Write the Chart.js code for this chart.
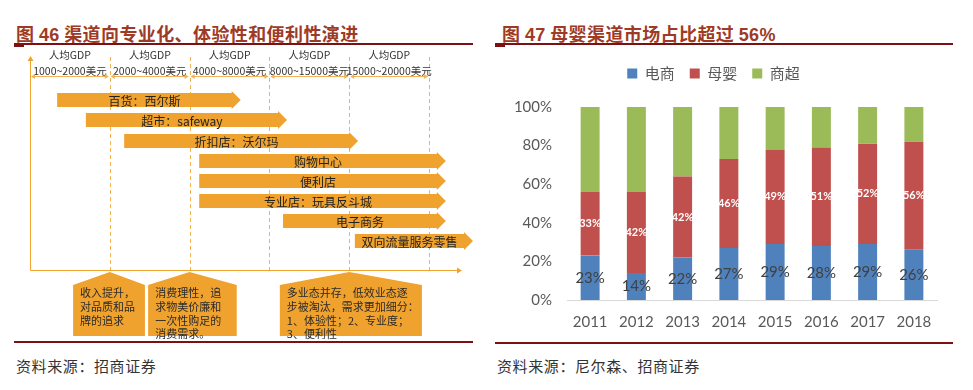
<!DOCTYPE html>
<html>
<head>
<meta charset="utf-8">
<script src="https://cdn.jsdelivr.net/npm/chart.js@4.4.0/dist/chart.umd.min.js"></script>
<style>
  body { margin: 0; width: 973px; height: 390px; background: #fff; position: relative; overflow: hidden; font-family: "Noto Sans CJK SC", sans-serif; }
  .title { position: absolute; top: 21px; line-height: 24px; font-size: 18px; font-weight: bold; color: #9E3A26; white-space: nowrap; letter-spacing: 0.4px; }
  .title b { font-family: "Liberation Sans", Arial, sans-serif; }
  .rule { position: absolute; background: #7B1113; }
  .src { position: absolute; top: 356px; line-height: 20px; font-size: 15px; color: #333; white-space: nowrap; letter-spacing: 0.6px; }
  canvas { position: absolute; }
</style>
</head>
<body>
<div class="title" style="left:16px">图 <b>46</b> 渠道向专业化、体验性和便利性演进</div>
<div class="rule" style="left:14px;top:43px;width:459px;height:2px"></div>
<div class="rule" style="left:14px;top:43px;width:10px;height:4px"></div>
<div class="rule" style="left:14px;top:341px;width:459px;height:2px"></div>
<div class="src" style="left:16px">资料来源：招商证券</div>

<div class="title" style="left:502px">图 <b>47</b> 母婴渠道市场占比超过 <b>56%</b></div>
<div class="rule" style="left:495px;top:43px;width:458px;height:2px"></div>
<div class="rule" style="left:495px;top:43px;width:10px;height:4px"></div>
<div class="rule" style="left:495px;top:342px;width:458px;height:2px"></div>
<div class="src" style="left:497px">资料来源：尼尔森、招商证券</div>

<canvas id="flow" width="487" height="296" style="left:0;top:46px"></canvas>
<canvas id="share" width="483" height="290" style="left:490px;top:50px"></canvas>

<script>
// left: channel evolution along GDP per capita stages
const periodTop = ["人均GDP", "人均GDP", "人均GDP", "人均GDP", "人均GDP"];
const periodRange = ["1000~2000美元", "2000~4000美元", "4000~8000美元", "8000~15000美元", "15000~20000美元"];
const channels = ["百货：西尔斯", "超市：safeway", "折扣店：沃尔玛", "购物中心", "便利店", "专业店：玩具反斗城", "电子商务", "双向流量服务零售"];
const channelStart = [0.34, 0.70, 1.18, 2.12, 2.12, 2.12, 3.17, 4.07];
const channelEnd = [2.64, 3.22, 4.11, 5.21, 5.21, 5.21, 5.21, 5.55];
const notes = [
  ["收入提升，", "对品质和品", "牌的追求"],
  ["消费理性，追", "求物美价廉和", "一次性购足的", "消费需求。"],
  ["多业态并存，低效业态逐", "步被淘汰，需求更加细分：", "1、体验性；2、专业度；", "3、便利性"],
];
const noteAt = [1, 2, 4];

// right: channel share
const years = ["2011", "2012", "2013", "2014", "2015", "2016", "2017", "2018"];
const seriesNames = ["电商", "母婴", "商超"];
const ecommerce = [23, 14, 22, 27, 29, 28, 29, 26];
const maternity = [33, 42, 42, 46, 49, 51, 52, 56];
const supermarket = [44, 44, 36, 27, 22, 21, 19, 18];

const ORANGE = "#F0A22E";
const CJK = '"Noto Sans CJK SC", sans-serif';
const noteSpan = [[0.54, 1.44], [1.48, 2.59], [3.13, 4.91]];

function arrowHead(ctx, x, y, dx, dy, size) {
  ctx.beginPath();
  ctx.moveTo(x, y);
  ctx.lineTo(x - dx * size - dy * size * 0.6, y - dy * size - dx * size * 0.6);
  ctx.lineTo(x - dx * size + dy * size * 0.6, y - dy * size + dx * size * 0.6);
  ctx.closePath();
  ctx.fill();
}

const guidePlugin = {
  id: "guides",
  beforeDatasetsDraw(chart) {
    const { ctx, chartArea: a, scales } = chart;
    const x = scales.x;
    ctx.save();
    ctx.strokeStyle = "#F2B255";
    ctx.lineWidth = 1;
    ctx.setLineDash([4, 3]);
    for (let b = 1; b <= periodRange.length; b++) {
      const px = Math.round(x.getPixelForValue(b)) + 0.5;
      ctx.beginPath();
      ctx.moveTo(px, a.top - 5);
      ctx.lineTo(px, a.bottom);
      ctx.stroke();
    }
    ctx.setLineDash([]);

    // axes
    ctx.strokeStyle = ORANGE;
    ctx.fillStyle = ORANGE;
    const x0 = Math.round(x.getPixelForValue(0)) + 0.5;
    const yb = Math.round(a.bottom) + 0.5;
    ctx.beginPath();
    ctx.moveTo(x0, yb);
    ctx.lineTo(x0, a.top - 4);
    ctx.moveTo(x0, yb);
    ctx.lineTo(a.right - 13, yb);
    ctx.stroke();
    arrowHead(ctx, x0, a.top - 6, 0, -1, 5);
    arrowHead(ctx, a.right - 11, yb, 1, 0, 5);

    // stage labels and span arrows
    ctx.font = "10.5px " + CJK;
    ctx.textAlign = "center";
    ctx.textBaseline = "middle";
    const yd = Math.round(a.top + 14) + 0.5;
    for (let i = 0; i < periodRange.length; i++) {
      const l = x.getPixelForValue(i), r = x.getPixelForValue(i + 1);
      const cx = (l + r) / 2;
      ctx.fillStyle = "#333";
      ctx.fillText(periodTop[i], cx, a.top - 7);
      ctx.fillText(periodRange[i], cx, a.top + 9);
      ctx.strokeStyle = "#F2B255";
      ctx.fillStyle = "#F2B255";
      ctx.beginPath();
      ctx.moveTo(l + 2, yd);
      ctx.lineTo(r - 2, yd);
      ctx.stroke();
      arrowHead(ctx, l + 1, yd, -1, 0, 4);
      arrowHead(ctx, r - 1, yd, 1, 0, 4);
    }

    // note boxes under the axis
    ctx.font = "11px " + CJK;
    ctx.textAlign = "left";
    notes.forEach((lines, i) => {
      const l = x.getPixelForValue(noteSpan[i][0]);
      const r = x.getPixelForValue(noteSpan[i][1]);
      const p = x.getPixelForValue(noteAt[i]);
      const top = a.bottom + 2, sh = a.bottom + 15, bot = a.bottom + 66;
      ctx.fillStyle = ORANGE;
      ctx.beginPath();
      ctx.moveTo(p, top);
      ctx.lineTo(r, sh);
      ctx.lineTo(r, bot);
      ctx.lineTo(l, bot);
      ctx.lineTo(l, sh);
      ctx.closePath();
      ctx.fill();
      ctx.fillStyle = "#2a2a2a";
      lines.forEach((t, k) => ctx.fillText(t, l + 7, a.bottom + 23 + k * 13.7));
    });
    ctx.restore();
  },
  afterDatasetsDraw(chart) {
    const ctx = chart.ctx;
    chart.getDatasetMeta(0).data.forEach((bar, i) => {
      const start = Math.min(bar.x, bar.base), tip = Math.max(bar.x, bar.base);
      const y = Math.round(bar.y);
      const head = 9;
      ctx.save();
      ctx.fillStyle = ORANGE;
      ctx.beginPath();
      ctx.moveTo(start, y - 7);
      ctx.lineTo(tip - head, y - 7);
      ctx.lineTo(tip - head, y - 9);
      ctx.lineTo(tip, y);
      ctx.lineTo(tip - head, y + 9);
      ctx.lineTo(tip - head, y + 7);
      ctx.lineTo(start, y + 7);
      ctx.closePath();
      ctx.fill();
      ctx.fillStyle = "#222";
      ctx.font = "12px " + CJK;
      ctx.textAlign = "center";
      ctx.textBaseline = "middle";
      ctx.fillText(channels[i], (start + tip - head) / 2, y + 1);
      ctx.restore();
    });
  },
};

new Chart(document.getElementById("flow"), {
  type: "bar",
  data: {
    datasets: [{
      data: channels.map((c, i) => ({ x: [channelStart[i], channelEnd[i]], y: i })),
      backgroundColor: "rgba(0,0,0,0)",
      barThickness: 14,
    }],
  },
  options: {
    indexAxis: "y",
    responsive: false,
    animation: false,
    events: [],
    layout: { padding: { left: 30, right: 14, top: 16, bottom: 72 } },
    scales: {
      x: { type: "linear", min: 0, max: 5.55, display: false },
      y: { type: "linear", min: -1.38, max: 7.9, reverse: true, display: false },
    },
    plugins: { legend: { display: false }, tooltip: { enabled: false } },
  },
  plugins: [guidePlugin],
});

const labelPlugin = {
  id: "segmentLabels",
  afterDatasetsDraw(chart) {
    const ctx = chart.ctx;
    ctx.save();
    ctx.textAlign = "center";
    ctx.textBaseline = "middle";
    [0, 1].forEach((d) => {
      const values = chart.data.datasets[d].data;
      chart.getDatasetMeta(d).data.forEach((bar, i) => {
        if (d === 0) {
          ctx.font = "15px Lato, sans-serif";
          ctx.fillStyle = "#404040";
        } else {
          ctx.font = "bold 11px Lato, sans-serif";
          ctx.fillStyle = "#ffffff";
        }
        ctx.fillText(values[i] + "%", bar.x, (bar.y + bar.base) / 2);
      });
    });
    ctx.restore();
  },
};

// extra room between the legend and the plot
const legendGap = {
  id: "legendGap",
  beforeInit(chart) {
    const fit = chart.legend.fit;
    chart.legend.fit = function () {
      fit.call(this);
      this.height += 16;
    };
  },
};

new Chart(document.getElementById("share"), {
  type: "bar",
  data: {
    labels: years,
    datasets: [
      { label: seriesNames[0], data: ecommerce, backgroundColor: "#4F81BD" },
      { label: seriesNames[1], data: maternity, backgroundColor: "#C0504D" },
      { label: seriesNames[2], data: supermarket, backgroundColor: "#9BBB59" },
    ],
  },
  options: {
    responsive: false,
    animation: false,
    events: [],
    datasets: { bar: { barPercentage: 0.41, categoryPercentage: 1 } },
    layout: { padding: { left: 0, right: 36, top: 1, bottom: 0 } },
    scales: {
      x: {
        stacked: true,
        grid: { display: false },
        border: { color: "#D9D9D9" },
        ticks: { color: "#595959", font: { family: "Lato", size: 15 }, padding: 5 },
        afterFit: (s) => { s.height = 40; },
      },
      y: {
        stacked: true,
        min: 0,
        max: 100,
        grid: { display: false, drawTicks: false },
        border: { display: false },
        ticks: {
          stepSize: 20,
          padding: 15,
          color: "#595959",
          font: { family: "Lato", size: 15 },
          callback: (v) => v + "%",
        },
        afterFit: (s) => { s.width = 77; },
      },
    },
    plugins: {
      legend: {
        labels: {
          boxWidth: 10,
          boxHeight: 10,
          padding: 15,
          color: "#595959",
          font: { family: "Noto Sans CJK SC", size: 15 },
        },
      },
      tooltip: { enabled: false },
    },
  },
  plugins: [labelPlugin, legendGap],
});
</script>
</body>
</html>
